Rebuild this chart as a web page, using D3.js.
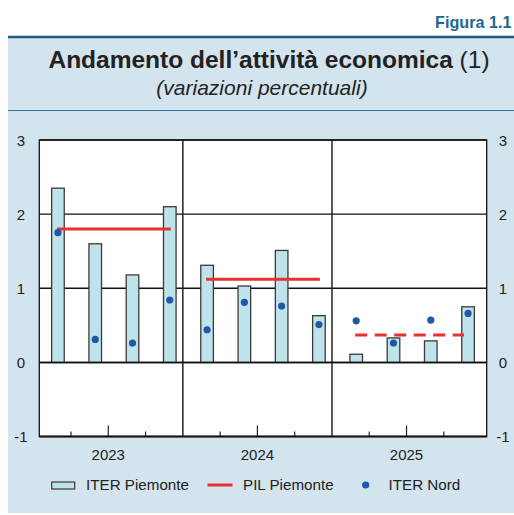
<!DOCTYPE html>
<html><head><meta charset="utf-8">
<script src="https://cdn.jsdelivr.net/npm/d3@7/dist/d3.min.js"></script>
<style>
html,body{margin:0;padding:0;background:#fff;}
svg{display:block;font-family:"Liberation Sans",Arial,Helvetica,sans-serif;}
</style></head>
<body>
<svg id="chart" width="514" height="515"></svg>
<script>
// ---- data ----
const years = ["2023", "2024", "2025"];
const quarters = ["2023T1","2023T2","2023T3","2023T4","2024T1","2024T2","2024T3","2024T4","2025T1","2025T2","2025T3","2025T4"];
const iterPiemonte = [2.35, 1.60, 1.18, 2.10, 1.31, 1.03, 1.51, 0.63, 0.11, 0.33, 0.29, 0.75];
const iterNord = [1.75, 0.31, 0.26, 0.84, 0.44, 0.81, 0.76, 0.51, 0.56, 0.26, 0.57, 0.66];
const pilPiemonte = [1.80, 1.12, 0.37];   // annual values, 2025 forecast (dashed)
const yTicks = [-1, 0, 1, 2, 3];
const legendLabels = ["ITER Piemonte", "PIL Piemonte", "ITER Nord"];

const svg = d3.select("#chart");
const panel = "#d3e4ee";

// background panel
svg.append("rect").attr("x", 8).attr("y", 37).attr("width", 506).attr("height", 476).attr("fill", panel);
svg.append("line").attr("x1", 8).attr("x2", 514).attr("y1", 37).attr("y2", 37)
  .attr("stroke", "#1b5f82").attr("stroke-width", 2.5);
svg.append("line").attr("x1", 8).attr("x2", 514).attr("y1", 110.5).attr("y2", 110.5)
  .attr("stroke", "#2b72a0").attr("stroke-width", 1);

svg.append("text").attr("x", 511.5).attr("y", 28).attr("text-anchor", "end")
  .attr("font-size", 16.2).attr("font-weight", "bold").attr("fill", "#1b6a8e").text("Figura 1.1");

const t = svg.append("text").attr("x", 269).attr("y", 68).attr("text-anchor", "middle")
  .attr("font-size", 24.5).attr("fill", "#222");
t.append("tspan").attr("font-weight", "bold").text("Andamento dell\u2019attività economica ");
t.append("tspan").text("(1)");
svg.append("text").attr("x", 262).attr("y", 95).attr("text-anchor", "middle")
  .attr("font-size", 21).attr("font-style", "italic").attr("fill", "#222").text("(variazioni percentuali)");

// plot area
const L = 39.3, R = 486.7, T = 140, B = 436.5;
const x = d3.scaleLinear().domain([-0.5, 11.5]).range([L, R]);
const y = d3.scaleLinear().domain([-1, 3]).range([B, T]);

svg.append("rect").attr("x", L).attr("y", T).attr("width", R - L).attr("height", B - T).attr("fill", "#fff");

// horizontal gridlines
svg.append("g").selectAll("line").data(yTicks.filter(v => v !== -1)).join("line")
  .attr("x1", L).attr("x2", R).attr("y1", d => y(d)).attr("y2", d => y(d))
  .attr("stroke", "#111").attr("stroke-width", d => d === 0 ? 1.5 : 1.3);

// year dividers & ticks (offset from bar centres as in original)
const tickPos = d3.range(0, 11).map(k => k + 0.35);
svg.append("g").selectAll("line").data(tickPos).join("line")
  .attr("x1", d => x(d)).attr("x2", d => x(d))
  .attr("y1", (d, i) => i % 4 === 3 ? T : (i % 4 === 1 ? B - 11 : B - 5))
  .attr("y2", B)
  .attr("stroke", "#222").attr("stroke-width", (d, i) => i % 4 === 3 ? 1.5 : 1.2);

// bars
const bw = 12.6;
svg.append("g").selectAll("rect").data(iterPiemonte).join("rect")
  .attr("x", (d, i) => x(i) - bw / 2).attr("width", bw)
  .attr("y", d => y(Math.max(0, d))).attr("height", d => Math.abs(y(d) - y(0)))
  .attr("fill", "#bfe3ea").attr("stroke", "#3a3a3a").attr("stroke-width", 1.3);

// redraw zero line over bar bottoms
svg.append("line").attr("x1", L).attr("x2", R).attr("y1", y(0)).attr("y2", y(0))
  .attr("stroke", "#111").attr("stroke-width", 1.5);

// PIL lines
svg.append("g").selectAll("line").data(pilPiemonte).join("line")
  .attr("x1", (d, i) => x(i * 4) - 1).attr("x2", (d, i) => x(i * 4 + 3) + 1 - (i === 2 ? 5 : 0))
  .attr("y1", d => y(d)).attr("y2", d => y(d))
  .attr("stroke", "#e8302f").attr("stroke-width", 3)
  .attr("stroke-dasharray", (d, i) => i === 2 ? "12,7.5" : null);

// dots
svg.append("g").selectAll("circle").data(iterNord).join("circle")
  .attr("cx", (d, i) => x(i)).attr("cy", d => y(d)).attr("r", 3.6).attr("fill", "#1f58a6");

// frame
svg.append("rect").attr("x", L).attr("y", T).attr("width", R - L).attr("height", B - T)
  .attr("fill", "none").attr("stroke", "#111").attr("stroke-width", 1.3);
svg.append("line").attr("x1", L).attr("x2", R).attr("y1", B).attr("y2", B).attr("stroke", "#111").attr("stroke-width", 2);

// y labels
const yl = svg.append("g").attr("font-size", 15).attr("fill", "#222");
yl.selectAll("text.l").data(yTicks).join("text").attr("class", "l")
  .attr("x", 21).attr("y", d => y(d) + 5.5).attr("text-anchor", "middle").text(d => d);
yl.selectAll("text.r").data(yTicks).join("text").attr("class", "r")
  .attr("x", 503).attr("y", d => y(d) + 5.5).attr("text-anchor", "middle").text(d => d);

// year labels
svg.append("g").selectAll("text").data(years).join("text")
  .attr("x", (d, i) => x(i * 4 + 1.35)).attr("y", 460).attr("text-anchor", "middle")
  .attr("font-size", 15).attr("fill", "#222").text(d => d);

// legend
const lg = svg.append("g").attr("font-size", 15.2).attr("fill", "#222");
lg.append("rect").attr("x", 51.7).attr("y", 482).attr("width", 23).attr("height", 7)
  .attr("fill", "#bfe3ea").attr("stroke", "#3a3a3a").attr("stroke-width", 1.2);
lg.append("text").attr("x", 86).attr("y", 490).text(legendLabels[0]);
lg.append("line").attr("x1", 207.5).attr("x2", 232.5).attr("y1", 485).attr("y2", 485)
  .attr("stroke", "#e8302f").attr("stroke-width", 3);
lg.append("text").attr("x", 243).attr("y", 490).text(legendLabels[1]);
lg.append("circle").attr("cx", 365.7).attr("cy", 485).attr("r", 3.6).attr("fill", "#1f58a6");
lg.append("text").attr("x", 388.5).attr("y", 490).text(legendLabels[2]);
</script>
</body></html>
